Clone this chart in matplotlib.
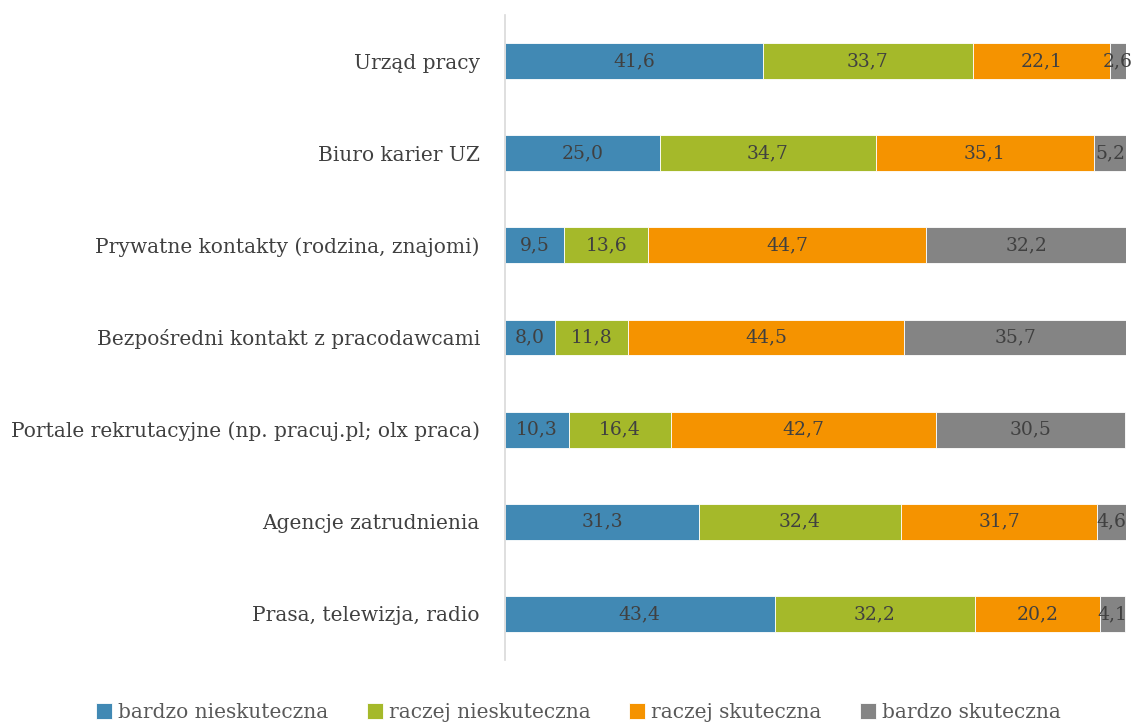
import matplotlib.pyplot as plt
import numpy as np

categories = [
    "Urząd pracy",
    "Biuro karier UZ",
    "Prywatne kontakty (rodzina, znajomi)",
    "Bezpośredni kontakt z pracodawcami",
    "Portale rekrutacyjne (np. pracuj.pl; olx praca)",
    "Agencje zatrudnienia",
    "Prasa, telewizja, radio",
]
series_names = ["bardzo nieskuteczna", "raczej nieskuteczna", "raczej skuteczna", "bardzo skuteczna"]
bardzo_nieskuteczna = [41.6, 25.0, 9.5, 8.0, 10.3, 31.3, 43.4]
raczej_nieskuteczna = [33.7, 34.7, 13.6, 11.8, 16.4, 32.4, 32.2]
raczej_skuteczna = [22.1, 35.1, 44.7, 44.5, 42.7, 31.7, 20.2]
bardzo_skuteczna = [2.6, 5.2, 32.2, 35.7, 30.5, 4.6, 4.1]

colors = ["#4189B4", "#A5B92A", "#F59300", "#848484"]
values = [bardzo_nieskuteczna, raczej_nieskuteczna, raczej_skuteczna, bardzo_skuteczna]

plt.rcParams["font.family"] = ["DejaVu Serif"]

fig = plt.figure(figsize=(11.34, 7.24), dpi=100)
ax = fig.add_axes([0.4453, 0.0884, 0.5477, 0.8909])

y = np.arange(len(categories))
left = np.zeros(len(categories))
for name, vals, c in zip(series_names, values, colors):
    vals = np.array(vals)
    ax.barh(y, vals, left=left, height=0.39, color=c, label=name,
            edgecolor="white", linewidth=0.6)
    for yi, l, v in zip(y, left, vals):
        ax.text(l + v / 2, yi, f"{v:.1f}".replace(".", ","), ha="center", va="center",
                fontsize=13.5, color="#404040")
    left += vals

ax.set_xlim(0, 100)
ax.set_ylim(len(categories) - 0.5, -0.5)
ax.set_yticks(y)
ax.set_yticklabels(categories, fontsize=14.5, color="#404040")
ax.tick_params(axis="y", length=0, pad=18)
ax.set_xticks([])
for s in ["top", "right", "bottom"]:
    ax.spines[s].set_visible(False)
ax.spines["left"].set_color("#D9D9D9")
ax.spines["left"].set_linewidth(1.2)

fig.legend(loc="lower center", bbox_to_anchor=(0.51, -0.022), ncol=4, frameon=False,
           fontsize=14.5, handlelength=0.8, handleheight=0.8, handletextpad=0.3,
           columnspacing=1.9, labelcolor="#595959")

fig.savefig("out.png", dpi=100)
